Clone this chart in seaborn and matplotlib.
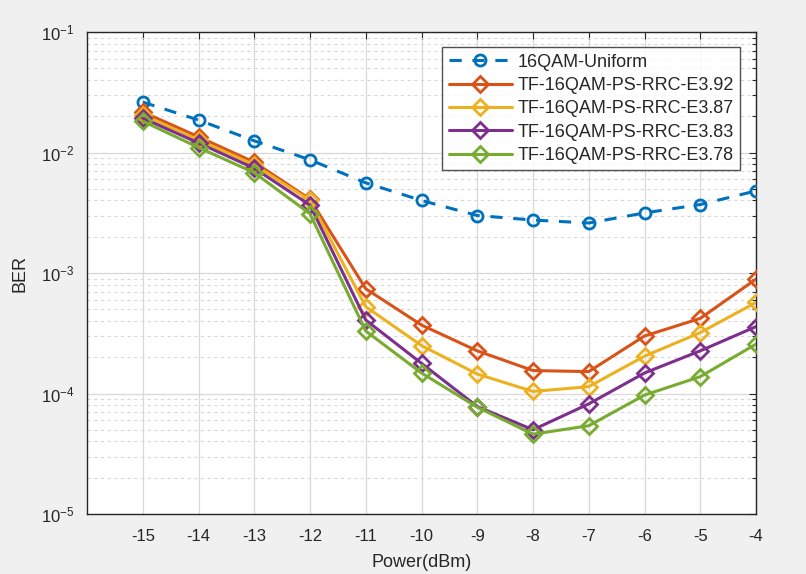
import numpy as np
import pandas as pd
import matplotlib
matplotlib.use("Agg")
import matplotlib.pyplot as plt
import seaborn as sns
from matplotlib.ticker import LogLocator, FixedLocator, NullFormatter

power = [-15, -14, -13, -12, -11, -10, -9, -8, -7, -6, -5, -4]
uniform = [2.62e-2, 1.86e-2, 1.25e-2, 8.7e-3, 5.6e-3, 4.0e-3, 3.0e-3, 2.75e-3, 2.6e-3, 3.15e-3, 3.7e-3, 4.8e-3]
e392 = [2.17e-2, 1.35e-2, 8.3e-3, 4.1e-3, 7.4e-4, 3.7e-4, 2.26e-4, 1.55e-4, 1.52e-4, 3.0e-4, 4.2e-4, 8.9e-4]
e387 = [2.05e-2, 1.27e-2, 7.9e-3, 4.0e-3, 5.25e-4, 2.5e-4, 1.45e-4, 1.04e-4, 1.14e-4, 2.04e-4, 3.2e-4, 5.7e-4]
e383 = [1.93e-2, 1.2e-2, 7.4e-3, 3.66e-3, 4.07e-4, 1.78e-4, 7.8e-5, 5.0e-5, 8.2e-5, 1.48e-4, 2.26e-4, 3.59e-4]
e378 = [1.82e-2, 1.1e-2, 6.8e-3, 3.1e-3, 3.3e-4, 1.48e-4, 7.7e-5, 4.6e-5, 5.4e-5, 9.7e-5, 1.38e-4, 2.57e-4]

names = ["16QAM-Uniform", "TF-16QAM-PS-RRC-E3.92", "TF-16QAM-PS-RRC-E3.87",
         "TF-16QAM-PS-RRC-E3.83", "TF-16QAM-PS-RRC-E3.78"]
series = [uniform, e392, e387, e383, e378]
colors = ["#0072BD", "#D95319", "#EDB120", "#7E2F8E", "#77AC30"]
xticks = [-15, -14, -13, -12, -11, -10, -9, -8, -7, -6, -5, -4]
yticks = [1e-5, 1e-4, 1e-3, 1e-2, 1e-1]

df = pd.DataFrame({
    "Power": np.tile(power, len(names)),
    "BER": np.concatenate(series),
    "Scheme": np.repeat(names, len(power)),
})

sns.set_style("white")
plt.rcParams["font.family"] = ["Liberation Sans", "DejaVu Sans"]
plt.rcParams["mathtext.default"] = "regular"

fig = plt.figure(figsize=(8.06, 5.74), dpi=100, facecolor="#F0F0F0")
ax = fig.add_axes([87/806, 1-514/574, (756-87)/806, (514-32)/574])
ax.set_facecolor("white")

handles = []
for i, (name, col) in enumerate(zip(names, colors)):
    sub = df[df["Scheme"] == name]
    if i == 0:
        sns.lineplot(data=sub, x="Power", y="BER", ax=ax, color=col, lw=2.2,
                     marker="o", markersize=8, markerfacecolor="none",
                     markeredgecolor=col, markeredgewidth=2.0,
                     linestyle=(0, (4, 3.5)), legend=False, zorder=3)
    else:
        sns.lineplot(data=sub, x="Power", y="BER", ax=ax, color=col, lw=2.2,
                     marker="D", markersize=8.5, markerfacecolor="none",
                     markeredgecolor=col, markeredgewidth=2.0,
                     legend=False, zorder=3)
    handles.append(ax.lines[-1])

ax.set_yscale("log")
ax.set_xlim(-16, -4)
ax.set_ylim(1e-5, 1e-1)
ax.xaxis.set_major_locator(FixedLocator(xticks))
ax.set_xticklabels([str(v) for v in xticks])
ax.yaxis.set_major_locator(FixedLocator(yticks))
ax.set_yticklabels([r"10$^{%d}$" % int(np.log10(v)) for v in yticks])
ax.yaxis.set_minor_locator(LogLocator(base=10, subs=np.arange(2, 10), numticks=20))
ax.yaxis.set_minor_formatter(NullFormatter())

ax.grid(True, which="major", color="#D8D8D8", lw=0.9, ls="-")
ax.grid(True, which="minor", axis="y", color="#D8D8D8", lw=0.8, ls=(0, (3, 3)))
ax.set_axisbelow(True)

for s in ax.spines.values():
    s.set_color("#262626")
    s.set_linewidth(1.0)
    s.set_visible(True)

ax.tick_params(which="both", direction="in", top=True, right=True,
               colors="#262626", labelsize=12)
ax.tick_params(axis="x", pad=11)
ax.tick_params(axis="y", pad=9)
ax.tick_params(which="major", length=5, width=0.8)
ax.tick_params(which="minor", length=3, width=0.8)

ax.set_xlabel("Power(dBm)", fontsize=13, color="#262626", labelpad=7)
ax.set_ylabel("BER", fontsize=13, color="#262626", labelpad=9)

leg = ax.legend(handles, names, loc="upper right", bbox_to_anchor=(0.976, 0.968),
                fontsize=13, frameon=True, fancybox=False, edgecolor="#262626",
                handlelength=3.5, handletextpad=0.3, borderpad=0.35,
                labelspacing=0.35, borderaxespad=0)
leg.get_frame().set_linewidth(1.0)

fig.savefig("out.png", dpi=100, facecolor=fig.get_facecolor())
